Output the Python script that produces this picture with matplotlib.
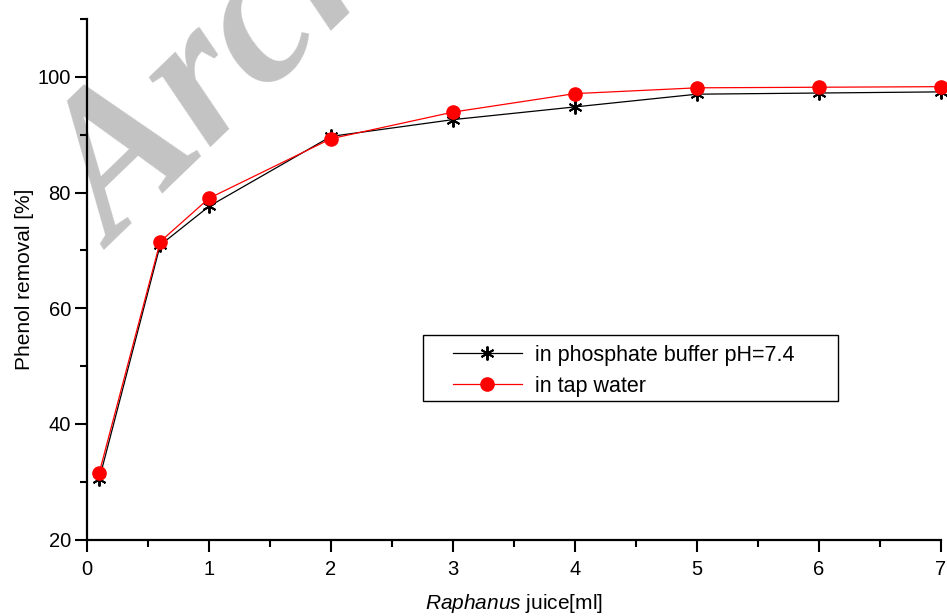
import matplotlib
matplotlib.use("Agg")
import matplotlib.pyplot as plt
from matplotlib.patches import Rectangle

plt.rcParams['font.family'] = ['Liberation Sans', 'DejaVu Sans']
plt.rcParams['mathtext.fontset'] = 'custom'
plt.rcParams['mathtext.rm'] = 'Liberation Sans'
plt.rcParams['mathtext.it'] = 'Liberation Sans:italic'

x = [0.1, 0.6, 1, 2, 3, 4, 5, 6, 7]
phosphate = [30.4, 70.9, 77.6, 89.7, 92.6, 94.8, 97.0, 97.2, 97.4]
tap = [31.5, 71.5, 79.0, 89.3, 93.9, 97.1, 98.1, 98.2, 98.3]
xticks = [0, 1, 2, 3, 4, 5, 6, 7]
yticks = [20, 40, 60, 80, 100]

W, H = 947, 616
fig = plt.figure(figsize=(W / 100, H / 100), dpi=100)

# watermark (behind axes)
fig.text(115 / W, (H - 250) / H, 'Archive of SID', rotation=44, fontsize=145,
         family='Liberation Serif', weight='bold', style='italic',
         color='#c3c3c3', ha='left', va='baseline', rotation_mode='anchor', zorder=0)

ax = fig.add_axes([87 / W, (H - 539.5) / H, 854 / W, 520.5 / H])
ax.set_zorder(2)
ax.patch.set_alpha(0)

ax.plot(x, phosphate, color='black', lw=0.9, marker=(6, 2, 0), ms=10, mew=1.4,
        mec='black', clip_on=False, label='in phosphate buffer pH=7.4')
ax.plot(x, tap, color='red', lw=0.9, marker='o', ms=9.5, mfc='red', mec='red',
        clip_on=False, label='in tap water')

ax.set_xlim(0, 7)
ax.set_ylim(20, 110)
ax.set_xticks(xticks)
ax.set_yticks(yticks)
ax.set_xticks([0.5, 1.5, 2.5, 3.5, 4.5, 5.5, 6.5], minor=True)
ax.set_yticks([30, 50, 70, 90, 110], minor=True)
ax.tick_params(which='major', direction='out', length=8.6, width=1.5, labelsize=14.5)
ax.tick_params(which='minor', direction='out', length=4.7, width=1.5)
ax.tick_params(axis='x', which='major', pad=6)
ax.tick_params(axis='y', which='major', pad=3)
ax.spines['top'].set_visible(False)
ax.spines['right'].set_visible(False)
ax.spines['left'].set_linewidth(1.6)
ax.spines['bottom'].set_linewidth(1.6)

ax.set_xlabel(r'$\mathit{Raphanus}$ juice[ml]', fontsize=15, labelpad=9.5)
ax.set_ylabel('Phenol removal [%]', fontsize=15, labelpad=2.5)

# legend frame box
fig.patches.append(Rectangle((423 / W, (H - 401) / H), 415 / W, 66 / H,
                             transform=fig.transFigure, fill=False,
                             edgecolor='black', lw=1.0, zorder=3))
leg = ax.legend(loc='upper left', bbox_to_anchor=(453 / W, (H - 345) / H),
                bbox_transform=fig.transFigure, fontsize=15.5, frameon=False,
                handlelength=3.2, handletextpad=0.6, borderpad=0, borderaxespad=0,
                labelspacing=0.45)

fig.savefig('out.png', dpi=100)
